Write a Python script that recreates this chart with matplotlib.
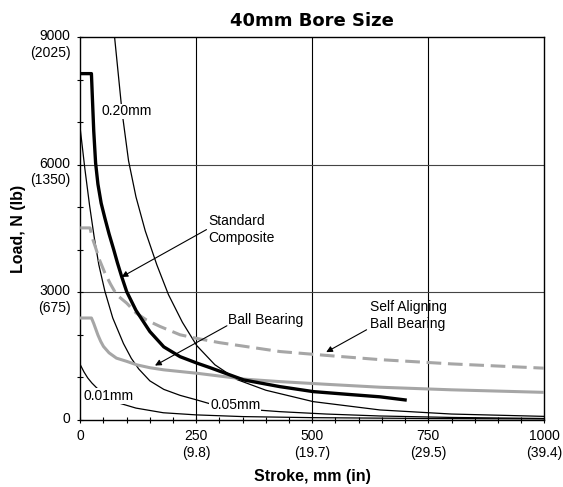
import numpy as np
import matplotlib
matplotlib.use('Agg')
import matplotlib.pyplot as plt

plt.rcParams['font.family'] = ['Liberation Sans', 'DejaVu Sans']

# curves (stroke mm, load N)
std_x = [0, 24, 26, 29, 33, 38, 45, 53, 62, 72, 80, 89, 100, 120, 150, 180, 215, 251, 280, 352, 430, 502, 580, 646, 700]
std_y = [8150, 8150, 7600, 6800, 6050, 5550, 5100, 4750, 4380, 4010, 3700, 3380, 3020, 2580, 2080, 1720, 1490, 1340, 1230, 943, 785, 668, 600, 545, 472]

bb_x = [0, 24, 26, 29, 33, 38, 44, 50, 62, 78, 100, 122, 150, 180, 251, 280, 355, 430, 530, 646, 800, 1000]
bb_y = [2400, 2400, 2350, 2270, 2150, 2000, 1850, 1730, 1580, 1455, 1380, 1297, 1230, 1180, 1100, 1061, 960, 903, 840, 771, 710, 650]

sa_x = [0, 21, 23, 26, 32, 42, 53, 65, 78, 100, 120, 143, 172, 215, 251, 300, 430, 530, 646, 800, 1000]
sa_y = [4520, 4520, 4420, 4280, 4087, 3750, 3460, 3200, 2950, 2750, 2520, 2350, 2200, 2005, 1920, 1820, 1611, 1520, 1420, 1320, 1219]

d05_x = [0, 10, 20, 30, 40, 53, 70, 93, 110, 126, 150, 180, 215, 251, 280, 350, 430, 530, 646, 800, 1000]
d05_y = [6840, 5900, 5050, 4300, 3650, 3030, 2400, 1800, 1450, 1200, 920, 720, 580, 472, 380, 260, 196, 140, 94, 60, 35]

d20_x = [74, 90, 104, 120, 140, 165, 190, 220, 251, 290, 338, 400, 502, 646, 800, 1000]
d20_y = [9000, 7250, 6100, 5250, 4450, 3650, 2950, 2300, 1750, 1300, 950, 700, 432, 236, 140, 85]

d01_x = [0, 8, 16, 25, 35, 50, 70, 86, 120, 179, 250, 350, 500, 750, 1000]
d01_y = [1300, 1130, 990, 870, 760, 620, 480, 390, 280, 170, 120, 80, 55, 35, 25]

xticks = [0, 250, 500, 750, 1000]
xtick_labels = ['0', '250\n(9.8)', '500\n(19.7)', '750\n(29.5)', '1000\n(39.4)']
yticks = [0, 3000, 6000, 9000]
ytick_labels = ['0', '3000\n(675)', '6000\n(1350)', '9000\n(2025)']

fig = plt.figure(figsize=(5.63, 4.87), dpi=100)
ax = fig.add_axes([0.1426, 0.1376, 0.8242, 0.7854])

gray = '#a6a6a6'
for v in xticks[1:-1]:
    ax.axvline(v, color='black', lw=0.8, zorder=1)
for v in yticks[1:-1]:
    ax.axhline(v, color='#444444', lw=0.8, zorder=1)

ax.plot(d01_x, d01_y, color='black', lw=0.9, zorder=3)
ax.plot(d05_x, d05_y, color='black', lw=0.9, zorder=3)
ax.plot(d20_x, d20_y, color='black', lw=0.9, zorder=3)
ax.plot(sa_x, sa_y, color=gray, lw=2.2, dashes=(4.8, 2.2), zorder=4)
ax.plot(bb_x, bb_y, color=gray, lw=2.2, zorder=4)
ax.plot(std_x, std_y, color='black', lw=2.4, zorder=5)

ax.set_xlim(0, 1000)
ax.set_ylim(0, 9000)
ax.set_xticks(xticks)
ax.set_xticklabels(xtick_labels, fontsize=10, linespacing=1.25)
ax.set_xticks(np.arange(0, 1001, 50), minor=True)
ax.set_yticks(yticks)
ax.set_yticklabels([])
ax.set_yticks(np.arange(0, 9001, 1000), minor=True)
ax.tick_params(which='both', direction='inout', length=5, width=0.8, colors='black')
ax.tick_params(axis='x', which='major', pad=4)
for v, lab in zip(yticks, ytick_labels):
    ax.annotate(lab, xy=(0, v), xycoords=('axes fraction', 'data'), xytext=(-7, 6),
                textcoords='offset points', ha='right', va='top', fontsize=10, linespacing=1.25)
for s in ax.spines.values():
    s.set_linewidth(1.0)
    s.set_color('black')

ax.set_title('40mm Bore Size', fontsize=13, fontweight='bold', family='DejaVu Sans', pad=8)
ax.set_xlabel('Stroke, mm (in)', fontsize=11.5, fontweight='bold', labelpad=7)
ax.set_ylabel('Load, N (lb)', fontsize=11.5, fontweight='bold')
ax.yaxis.set_label_coords(-0.118, 0.5)

lbl_box = dict(facecolor='white', edgecolor='none', pad=0.6)
ax.text(45, 7260, '0.20mm', fontsize=10, ha='left', va='center', bbox=lbl_box, zorder=6)
ax.text(6, 566, '0.01mm', fontsize=10, ha='left', va='center', bbox=lbl_box, zorder=6)
ax.text(280, 354, '0.05mm', fontsize=10, ha='left', va='center', bbox=lbl_box, zorder=6)

arrow = dict(arrowstyle='-|>', color='black', lw=0.8, mutation_scale=9, shrinkA=0, shrinkB=0)
ax.text(275, 4480, 'Standard\nComposite', fontsize=10, ha='left', va='center', linespacing=1.2)
ax.annotate('', xy=(89, 3365), xytext=(272, 4480), arrowprops=arrow, zorder=7)
ax.text(318, 2360, 'Ball Bearing', fontsize=10, ha='left', va='center')
ax.annotate('', xy=(161, 1281), xytext=(316, 2217), arrowprops=arrow, zorder=7)
ax.text(624, 2460, 'Self Aligning\nBall Bearing', fontsize=10, ha='left', va='center', linespacing=1.2)
ax.annotate('', xy=(530, 1597), xytext=(617, 2123), arrowprops=arrow, zorder=7)

fig.savefig('out.png', dpi=100)
